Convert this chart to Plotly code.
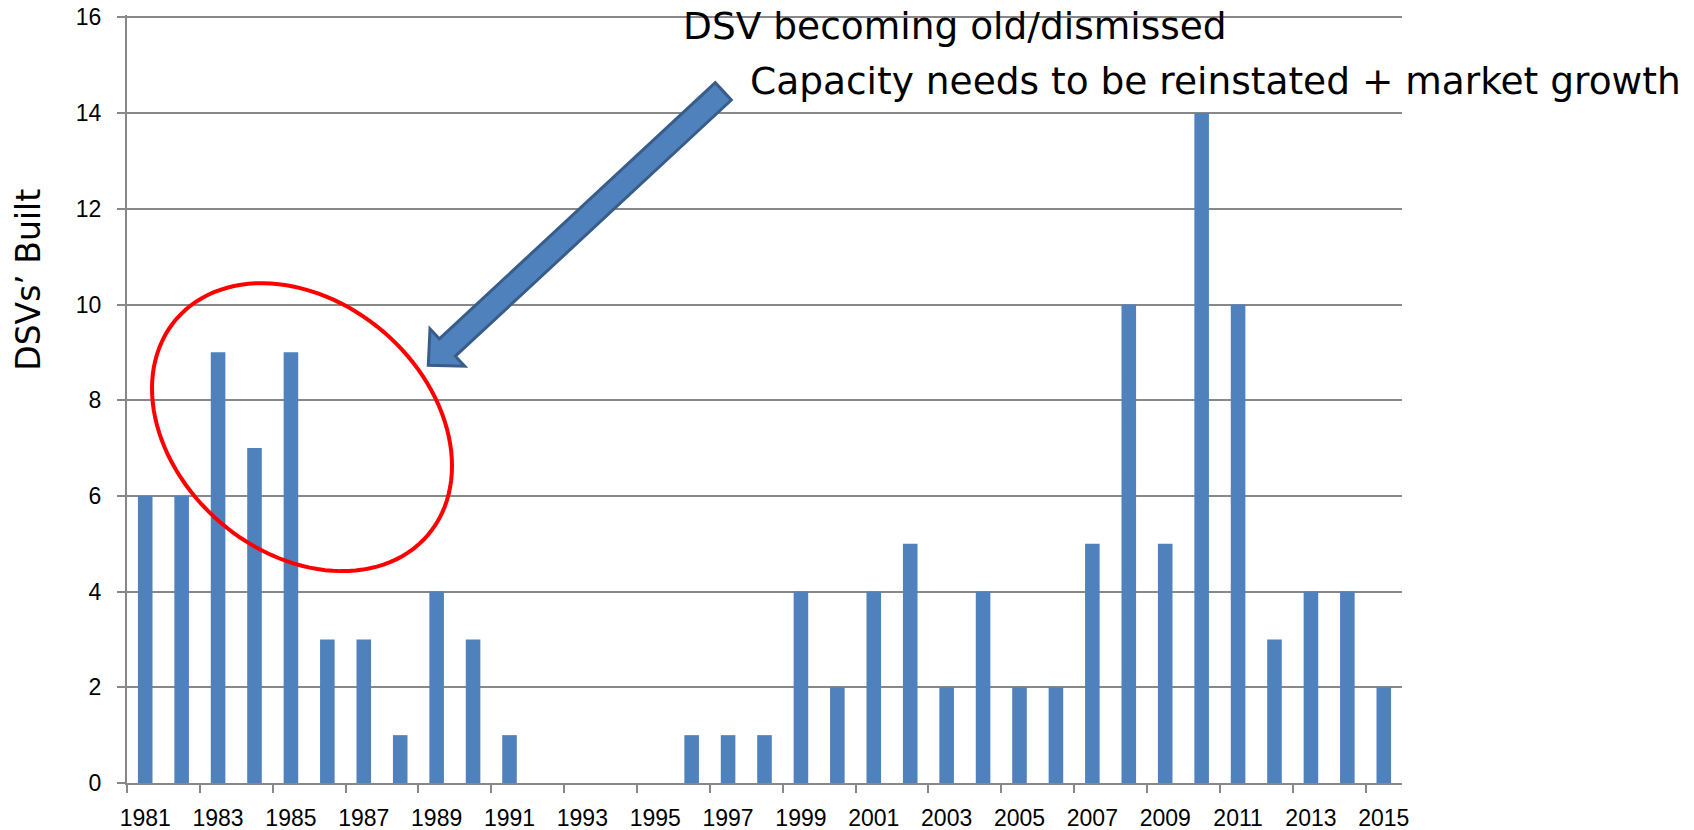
import numpy as np
import plotly.graph_objects as go

# ---------------- data ----------------
years = [1981, 1982, 1983, 1984, 1985, 1986, 1987, 1988, 1989, 1990,
         1991, 1992, 1993, 1994, 1995, 1996, 1997, 1998, 1999, 2000,
         2001, 2002, 2003, 2004, 2005, 2006, 2007, 2008, 2009, 2010,
         2011, 2012, 2013, 2014, 2015]
dsv_built = [6, 6, 9, 7, 9, 3, 3, 1, 4, 3,
             1, 0, 0, 0, 0, 1, 1, 1, 4, 2,
             4, 5, 2, 4, 2, 2, 5, 10, 5, 14,
             10, 3, 4, 4, 2]
label_years = years[::2]
y_ticks = [0, 2, 4, 6, 8, 10, 12, 14, 16]
y_title = "DSVs’ Built"
note_line1 = "DSV becoming old/dismissed"
note_line2 = "Capacity needs to be reinstated + market growth"

# ---------------- layout geometry ----------------
# page pixel positions (the page body adds an 8 px margin around the figure)
OFF = 8
W, H = 1694 - 2 * OFF, 830 - OFF
Y_TOP = 16.05                      # a little headroom so the 16 gridline is kept
page_y16, page_y0 = 17, 783        # where 16 and 0 sit on the page
unit = (page_y0 - page_y16) / 16.0
page_top = page_y16 - (Y_TOP - 16) * unit
L, R = 127 - OFF, 1402 - OFF
T, B = page_top - OFF, page_y0 - OFF
GRID = "#888888"
BAR = "#4F81BD"


def px(x):
    """page x pixel -> paper coordinate"""
    return (x - OFF - L) / (R - L)


def py(y):
    """page y pixel -> paper coordinate"""
    return (B - (y - OFF)) / (B - T)


fig = go.Figure()
fig.add_trace(go.Bar(x=years, y=dsv_built, width=0.4,
                     marker=dict(color=BAR, line=dict(width=0)),
                     showlegend=False))

# ---- red ellipse (rotated) ----
cx, cy, a, b, th = 302, 427, 165.8, 125.5, np.deg2rad(40.7)
t = np.linspace(0, 2 * np.pi, 121)
ex = cx + a * np.cos(t) * np.cos(th) - b * np.sin(t) * np.sin(th)
ey = cy + a * np.cos(t) * np.sin(th) + b * np.sin(t) * np.cos(th)
ell_path = "M " + " L ".join(f"{px(x):.5f},{py(y):.5f}" for x, y in zip(ex, ey)) + " Z"

# ---- block arrow ----
Tp = np.array([723.3, 91.0])
Pp = np.array([428.3, 365.0])
u = (Pp - Tp) / np.linalg.norm(Pp - Tp)
n = np.array([u[1], -u[0]])
hw, HW, hl = 11.8, 25.5, 26.0
Bp = Pp - u * hl
pts = [Tp + n * hw, Bp + n * hw, Bp + n * HW, Pp, Bp - n * HW, Bp - n * hw, Tp - n * hw]
arrow_path = "M " + " L ".join(f"{px(p[0]):.5f},{py(p[1]):.5f}" for p in pts) + " Z"

shapes = [
    dict(type="path", xref="paper", yref="paper", path=arrow_path,
         fillcolor=BAR, line=dict(color="#385D8A", width=3), layer="above"),
    dict(type="path", xref="paper", yref="paper", path=ell_path,
         fillcolor="rgba(0,0,0,0)", line=dict(color="#FF0000", width=4), layer="above"),
]

ann_font = dict(family="DejaVu Sans", size=37.5, color="black")
annotations = [
    dict(text=note_line1, xref="paper", yref="paper", x=px(681), y=py(25.5),
         xanchor="left", yanchor="middle", showarrow=False, font=ann_font),
    dict(text=note_line2, xref="paper", yref="paper", x=px(748), y=py(80.3),
         xanchor="left", yanchor="middle", showarrow=False, font=ann_font),
    dict(text=y_title, xref="paper", yref="paper", x=px(28.5), y=py(280),
         xanchor="center", yanchor="middle", textangle=-90, showarrow=False,
         font=dict(family="DejaVu Sans", size=33, color="black")),
]

tick_font = dict(family="Liberation Sans", size=23, color="black")

fig.update_layout(
    width=W, height=H,
    margin=dict(l=L, r=W - R, t=T, b=H - B, pad=0, autoexpand=False),
    paper_bgcolor="white", plot_bgcolor="white",
    bargap=0.6,
    shapes=shapes, annotations=annotations,
    xaxis=dict(range=[1980.5, 2015.5], tickmode="array", tickvals=label_years,
               ticktext=[str(v) for v in label_years], ticks="",
               showline=True, linecolor=GRID, linewidth=2,
               showgrid=False, zeroline=False, tickfont=tick_font,
               ticklabelstandoff=13, automargin=False, ticklabeloverflow="allow",
               minor=dict(tickmode="linear", tick0=1980.5, dtick=2, ticks="outside",
                          ticklen=8, tickwidth=2, tickcolor=GRID, showgrid=False)),
    yaxis=dict(range=[0, Y_TOP], tickmode="array", tickvals=y_ticks,
               showgrid=True, gridcolor=GRID, gridwidth=2,
               showline=True, linecolor=GRID, linewidth=2,
               ticks="outside", ticklen=8, tickwidth=2, tickcolor=GRID,
               zeroline=False, tickfont=tick_font, automargin=False,
               ticklabelstandoff=11, ticklabeloverflow="allow"),
)

fig.write_html("out.html")
